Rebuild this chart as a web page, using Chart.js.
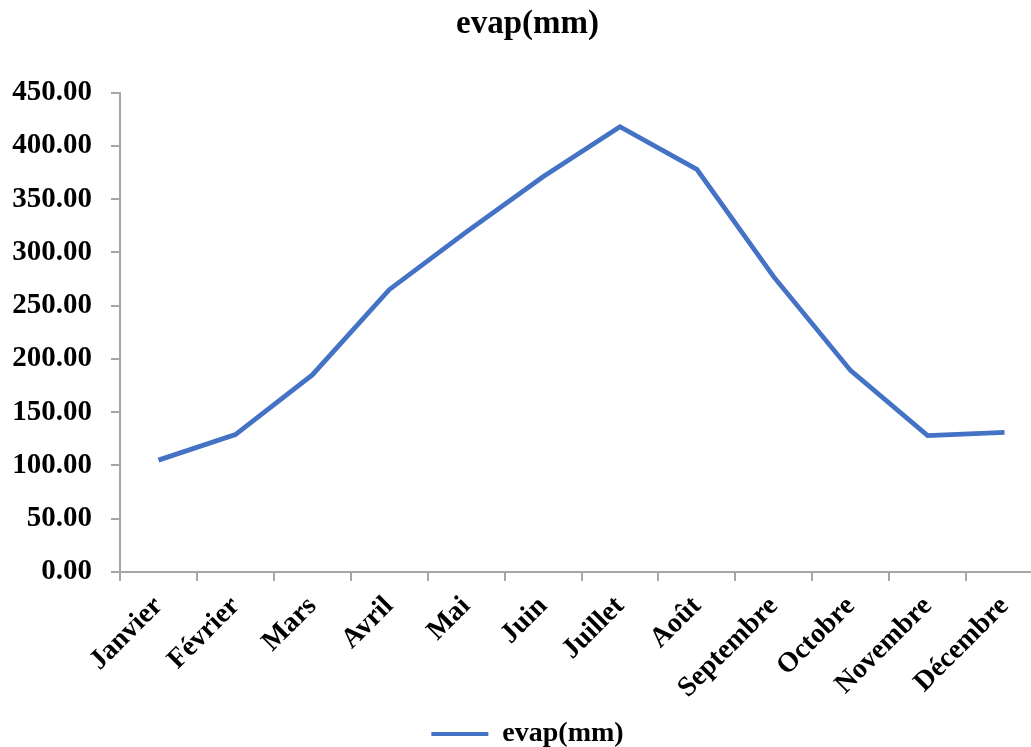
<!DOCTYPE html>
<html>
<head>
<meta charset="utf-8">
<script src="https://cdn.jsdelivr.net/npm/chart.js@4/dist/chart.umd.min.js"></script>
<style>
  html, body { margin: 0; padding: 0; background: #fff; overflow: hidden; }
  #wrap { position: absolute; left: 0; top: 0; width: 1062px; height: 747px; }
</style>
</head>
<body>
<div id="wrap"><canvas id="c" width="1062" height="747"></canvas></div>
<script>
const chartTitle = "evap(mm)";
const seriesName = "evap(mm)";
const months = ["Janvier", "Février", "Mars", "Avril", "Mai", "Juin", "Juillet", "Août", "Septembre", "Octobre", "Novembre", "Décembre"];
const evap = [105, 129, 185, 265, 319, 371, 418, 378, 277, 189, 128, 131];
const yMin = 0, yMax = 450, yStep = 50;

const lineColor = "#4472C4";
const axisColor = "#A6A6A6";
const fontFamily = "'Liberation Serif', 'Times New Roman', serif";

new Chart(document.getElementById("c"), {
  type: "line",
  data: {
    labels: months,
    datasets: [{
      label: seriesName,
      data: evap,
      borderColor: lineColor,
      backgroundColor: lineColor,
      borderWidth: 4.8,
      pointRadius: 0,
      tension: 0,
      fill: false
    }]
  },
  options: {
    responsive: false,
    animation: false,
    devicePixelRatio: 1,
    layout: { padding: { left: 12, right: 19, top: 0, bottom: -11 } },
    plugins: {
      title: {
        display: true,
        text: chartTitle,
        color: "#000",
        font: { family: fontFamily, size: 33, weight: "bold" },
        padding: { top: 5, bottom: 48 }
      },
      legend: {
        display: true,
        position: "bottom",
        labels: {
          color: "#000",
          font: { family: fontFamily, size: 28, weight: "bold" },
          boxWidth: 57,
          boxHeight: 4,
          padding: 0,
          generateLabels: (chart) => chart.data.datasets.map((ds, i) => ({
            text: ds.label,
            fillStyle: ds.borderColor,
            strokeStyle: ds.borderColor,
            lineWidth: 0,
            hidden: false,
            datasetIndex: i,
            fontColor: "#000"
          }))
        }
      },
      tooltip: { enabled: false }
    },
    scales: {
      x: {
        type: "category",
        offset: true,
        afterFit: (s) => { s.height = 148; },
        grid: {
          display: true,
          offset: true,
          drawOnChartArea: false,
          drawTicks: true,
          tickLength: 9,
          color: axisColor,
          lineWidth: 2
        },
        border: { display: true, color: axisColor, width: 2 },
        ticks: {
          color: "#000",
          font: { family: fontFamily, size: 28, weight: "bold" },
          maxRotation: 45,
          minRotation: 45,
          autoSkip: false,
          padding: 9
        }
      },
      y: {
        min: yMin,
        max: yMax,
        afterFit: (s) => { s.width = 108; },
        grid: {
          display: true,
          drawOnChartArea: false,
          drawTicks: true,
          tickLength: 9,
          color: axisColor,
          lineWidth: 2
        },
        border: { display: true, color: axisColor, width: 2 },
        ticks: {
          stepSize: yStep,
          color: "#000",
          font: { family: fontFamily, size: 29, weight: "bold" },
          padding: 19,
          callback: (v) => Number(v).toFixed(2)
        }
      }
    }
  }
});
</script>
</body>
</html>
